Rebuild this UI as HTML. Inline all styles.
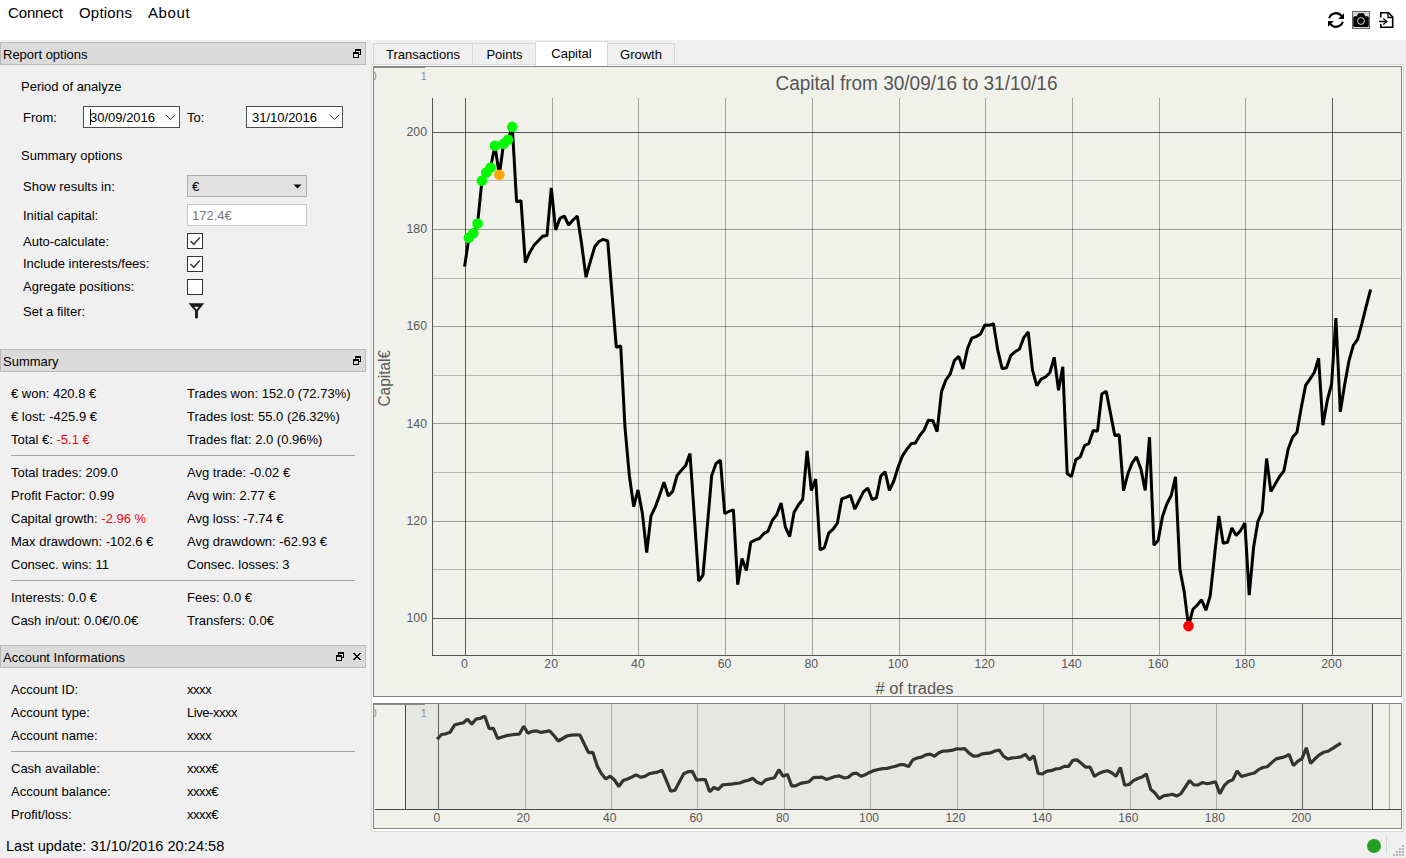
<!DOCTYPE html>
<html><head><meta charset="utf-8"><title>Report</title>
<style>
html,body{margin:0;padding:0}
body{width:1406px;height:858px;background:#f0f0f0;position:relative;overflow:hidden;font-family:"Liberation Sans",sans-serif;font-size:13px;color:#000}
#menubar{position:absolute;left:0;top:0;width:1406px;height:40px;background:#fff}
#menubar span{position:absolute;top:3px;font-size:15px;line-height:19px;white-space:nowrap}
#left .r{position:absolute;white-space:nowrap;line-height:15px;height:15px}
#left .red{color:#f00808}
.dt{position:absolute;left:0;width:364px;height:21px;background:#dbdbdb;border:1px solid #b9b9b9}
.dt b{position:absolute;left:2px;top:4px;font-weight:normal;line-height:15px;white-space:nowrap}
.hr{position:absolute;left:11px;width:344px;height:1px;background:#a0a0a0}
.gv{position:absolute;display:block}
.tab{position:absolute;box-sizing:border-box;border:1px solid #d9d9d9;border-bottom:none;background:#f0f0f0;text-align:center;white-space:nowrap}
.de{position:absolute;box-sizing:border-box;height:22px;top:106px;border:1px solid #4d4d4d;background:#fff}
.de span{position:absolute;top:3px;line-height:15px;white-space:nowrap}
.cb{position:absolute;left:187px;width:16px;height:16px;box-sizing:border-box;border:1px solid #333;background:#fff}
</style></head><body>
<div id="menubar">
<span style="left:8px;letter-spacing:-0.140px">Connect</span><span style="left:79px;letter-spacing:0.200px">Options</span><span style="left:148px;letter-spacing:0.600px">About</span>
<svg style="position:absolute;left:1326px;top:10px" width="70" height="20" viewBox="0 0 70 20">
 <!-- refresh -->
 <g fill="none" stroke="#000" stroke-width="2.2">
  <path d="M3.2 8.2 A7 7 0 0 1 15.6 6.2"/>
  <path d="M16.8 11.8 A7 7 0 0 1 4.4 13.8"/>
 </g>
 <path d="M18 3.2 L18 9 L12.2 9 Z" fill="#000"/>
 <path d="M2 16.8 L2 11 L7.8 11 Z" fill="#000"/>
 <!-- camera -->
 <rect x="26.5" y="1.5" width="17" height="17" fill="#d8d8d8" stroke="#666"/>
 <path d="M27.200 7.800 Q27.200 6.300 28.700 6.300 L30.800 6.300 L32.200 3.200 L37.800 3.200 L39.200 6.300 L41.300 6.300 Q42.800 6.300 42.800 7.800 L42.800 15.400 Q42.800 16.900 41.300 16.900 L28.700 16.900 Q27.200 16.900 27.200 15.400 Z" fill="#000"/>
 <circle cx="35" cy="11" r="3.400" fill="none" stroke="#d8d8d8" stroke-width="1"/>
 <!-- file import -->
 <path d="M54.8 7.5 L54.8 2.8 L62.5 2.800 L66.700 7 L66.700 17.200 L54.8 17.200 L54.8 14" fill="none" stroke="#000" stroke-width="1.6"/>
 <path d="M62 2.800 L62 7.5 L66.700 7.5" fill="none" stroke="#000" stroke-width="1.3"/>
 <path d="M53 11.500 L60.800 11.500 M57.300 8.500 L60.800 11.500 L57.300 14.500" fill="none" stroke="#000" stroke-width="1.300"/>
</svg>
</div>

<div id="left">
<div class="dt" style="top:42px"><b>Report options</b></div>
<div class="dt" style="top:349px"><b>Summary</b></div>
<div class="dt" style="top:645px"><b>Account Informations</b></div>
<div class="r" style="left:21px;top:79px">Period of analyze</div>
<div class="r" style="left:23px;top:110px">From:</div>
<div class="r" style="left:187px;top:110px">To:</div>
<div class="r" style="left:21px;top:148px">Summary options</div>
<div class="r" style="left:23px;top:179px">Show results in:</div>
<div class="r" style="left:23px;top:208px">Initial capital:</div>
<div class="r" style="left:23px;top:234px">Auto-calculate:</div>
<div class="r" style="left:23px;top:256px">Include interests/fees:</div>
<div class="r" style="left:23px;top:279px">Agregate positions:</div>
<div class="r" style="left:23px;top:304px">Set a filter:</div>
<div class="r" style="left:11px;top:386px">€ won: 420.8 €</div>
<div class="r" style="left:187px;top:386px">Trades won: 152.0 (72.73%)</div>
<div class="r" style="left:11px;top:409px">€ lost: -425.9 €</div>
<div class="r" style="left:187px;top:409px">Trades lost: 55.0 (26.32%)</div>
<div class="r" style="left:11px;top:432px">Total €: <span class="red">-5.1 €</span></div>
<div class="r" style="left:187px;top:432px">Trades flat: 2.0 (0.96%)</div>
<div class="r" style="left:11px;top:465px">Total trades: 209.0</div>
<div class="r" style="left:187px;top:465px">Avg trade: -0.02 €</div>
<div class="r" style="left:11px;top:488px">Profit Factor: 0.99</div>
<div class="r" style="left:187px;top:488px">Avg win: 2.77 €</div>
<div class="r" style="left:11px;top:511px">Capital growth: <span class="red">-2.96 %</span></div>
<div class="r" style="left:187px;top:511px">Avg loss: -7.74 €</div>
<div class="r" style="left:11px;top:534px">Max drawdown: -102.6 €</div>
<div class="r" style="left:187px;top:534px">Avg drawdown: -62.93 €</div>
<div class="r" style="left:11px;top:557px">Consec. wins: 11</div>
<div class="r" style="left:187px;top:557px">Consec. losses: 3</div>
<div class="r" style="left:11px;top:590px">Interests: 0.0 €</div>
<div class="r" style="left:187px;top:590px">Fees: 0.0 €</div>
<div class="r" style="left:11px;top:613px">Cash in/out: 0.0€/0.0€</div>
<div class="r" style="left:187px;top:613px">Transfers: 0.0€</div>
<div class="r" style="left:11px;top:681.5px">Account ID:</div>
<div class="r" style="left:187px;top:681.5px"><span style="letter-spacing:-0.45px">xxxx</span></div>
<div class="r" style="left:11px;top:704.5px">Account type:</div>
<div class="r" style="left:187px;top:704.5px"><span style="letter-spacing:-0.45px">Live-xxxx</span></div>
<div class="r" style="left:11px;top:727.5px">Account name:</div>
<div class="r" style="left:187px;top:727.5px"><span style="letter-spacing:-0.45px">xxxx</span></div>
<div class="r" style="left:11px;top:760.5px">Cash available:</div>
<div class="r" style="left:187px;top:760.5px"><span style="letter-spacing:-0.45px">xxxx€</span></div>
<div class="r" style="left:11px;top:783.5px">Account balance:</div>
<div class="r" style="left:187px;top:783.5px"><span style="letter-spacing:-0.45px">xxxx€</span></div>
<div class="r" style="left:11px;top:806.5px">Profit/loss:</div>
<div class="r" style="left:187px;top:806.5px"><span style="letter-spacing:-0.45px">xxxx€</span></div>
<div class="hr" style="top:455px"></div><div class="hr" style="top:580px"></div><div class="hr" style="top:751px"></div>
</div>

<!-- float / close glyphs -->
<svg style="position:absolute;left:352px;top:48px" width="12" height="12" viewBox="0 0 12 12"><g fill="none" stroke="#000" stroke-width="1" shape-rendering="crispEdges"><rect x="3.5" y="1.500" width="5" height="5"/><line x1="3.5" y1="2.500" x2="8.5" y2="2.500"/><rect x="1.500" y="4.500" width="5" height="5" fill="#dbdbdb"/><line x1="1.500" y1="5.500" x2="6.500" y2="5.500"/></g></svg>
<svg style="position:absolute;left:352px;top:355px" width="12" height="12" viewBox="0 0 12 12"><g fill="none" stroke="#000" stroke-width="1" shape-rendering="crispEdges"><rect x="3.5" y="1.500" width="5" height="5"/><line x1="3.5" y1="2.500" x2="8.5" y2="2.500"/><rect x="1.500" y="4.500" width="5" height="5" fill="#dbdbdb"/><line x1="1.500" y1="5.500" x2="6.500" y2="5.500"/></g></svg>
<svg style="position:absolute;left:335px;top:651px" width="12" height="12" viewBox="0 0 12 12"><g fill="none" stroke="#000" stroke-width="1" shape-rendering="crispEdges"><rect x="3.5" y="1.500" width="5" height="5"/><line x1="3.5" y1="2.500" x2="8.5" y2="2.500"/><rect x="1.500" y="4.500" width="5" height="5" fill="#dbdbdb"/><line x1="1.500" y1="5.500" x2="6.500" y2="5.500"/></g></svg>
<svg style="position:absolute;left:353px;top:653px" width="8" height="7" viewBox="0 0 8 7" shape-rendering="crispEdges"><g fill="#000"><rect x="0" y="0" width="2" height="1"/><rect x="6" y="0" width="2" height="1"/><rect x="1" y="1" width="2" height="1"/><rect x="5" y="1" width="2" height="1"/><rect x="2" y="2" width="2" height="1"/><rect x="4" y="2" width="2" height="1"/><rect x="3" y="3" width="2" height="1"/><rect x="2" y="4" width="2" height="1"/><rect x="4" y="4" width="2" height="1"/><rect x="1" y="5" width="2" height="1"/><rect x="5" y="5" width="2" height="1"/><rect x="0" y="6" width="2" height="1"/><rect x="6" y="6" width="2" height="1"/></g></svg>

<!-- form controls -->
<div class="de" style="left:83px;width:97px"><span style="left:6px">30/09/2016</span>
 <i style="position:absolute;left:6px;top:2px;width:1px;height:16px;background:#000"></i>
 <svg style="position:absolute;left:81px;top:7px" width="11" height="7" viewBox="0 0 11 7"><path d="M0.800 0.800 L5.500 5.500 L10.200 0.800" fill="none" stroke="#333" stroke-width="1"/></svg></div>
<div class="de" style="left:246px;width:97px"><span style="left:5px">31/10/2016</span>
 <svg style="position:absolute;left:82px;top:7px" width="11" height="7" viewBox="0 0 11 7"><path d="M0.800 0.800 L5.500 5.500 L10.200 0.800" fill="none" stroke="#333" stroke-width="1"/></svg></div>
<div style="position:absolute;box-sizing:border-box;left:187px;top:175px;width:120px;height:22px;border:1px solid #adadad;background:#e1e1e1"><span style="position:absolute;left:4px;top:3px;line-height:15px">€</span>
 <svg style="position:absolute;left:105px;top:8px" width="9" height="5" viewBox="0 0 9 5"><path d="M0.500 0.500 L8.5 0.500 L4.500 4.500 Z" fill="#000"/></svg></div>
<div style="position:absolute;box-sizing:border-box;left:187px;top:204px;width:120px;height:22px;border:1px solid #c8c8c8;background:#fff"><span style="position:absolute;left:4px;top:3px;line-height:15px;color:#787878">172.4€</span></div>
<div class="cb" style="top:233px"><svg width="14" height="14" viewBox="0 0 14 14" style="display:block"><path d="M2.500 7 L5.800 10.300 L11.800 3.500" fill="none" stroke="#3a3a3a" stroke-width="1.500"/></svg></div>
<div class="cb" style="top:256px"><svg width="14" height="14" viewBox="0 0 14 14" style="display:block"><path d="M2.500 7 L5.800 10.300 L11.800 3.500" fill="none" stroke="#3a3a3a" stroke-width="1.500"/></svg></div>
<div class="cb" style="top:279px"></div>
<svg style="position:absolute;left:188px;top:302px" width="17" height="18" viewBox="0 0 17 18"><path d="M0.600 1.200 L16.200 1.200 L9.900 9 L9.900 15.800 Q9.900 16.600 8.500 16.600 Q7.100 16.600 7.100 15.800 L7.100 9 Z" fill="#1a1a1a"/><path d="M6.200 4.700 L10.800 4.700 L8.500 7.700 Z" fill="#f0f0f0"/></svg>

<!-- tabs -->
<div class="tab" style="left:373px;top:43px;width:100px;height:22px;line-height:21px">Transactions</div>
<div class="tab" style="left:472px;top:43px;width:65px;height:22px;line-height:21px">Points</div>
<div class="tab" style="left:607px;top:43px;width:68px;height:22px;line-height:21px">Growth</div>
<div style="position:absolute;left:371px;top:64px;width:1033px;height:768px;box-sizing:border-box;border:1px solid #d9d9d9;background:#fff"></div>
<div class="tab" style="left:535px;top:41px;width:73px;height:25px;line-height:23px;background:#fff">Capital</div>

<svg class="gv" style="left:373px;top:66px" width="1029" height="631" viewBox="0 0 1029 631">
<rect x="0" y="0" width="1029" height="631" fill="#f1f1ec"/>
<g shape-rendering="crispEdges" stroke-width="1"><line x1="59.5" y1="552.5" x2="1029" y2="552.5" stroke="#000" stroke-opacity="0.63"/><line x1="59.5" y1="503.5" x2="1029" y2="503.5" stroke="#000" stroke-opacity="0.24"/><line x1="59.5" y1="455.5" x2="1029" y2="455.5" stroke="#000" stroke-opacity="0.36"/><line x1="59.5" y1="406.5" x2="1029" y2="406.5" stroke="#000" stroke-opacity="0.24"/><line x1="59.5" y1="357.5" x2="1029" y2="357.5" stroke="#000" stroke-opacity="0.36"/><line x1="59.5" y1="309.5" x2="1029" y2="309.5" stroke="#000" stroke-opacity="0.24"/><line x1="59.5" y1="260.5" x2="1029" y2="260.5" stroke="#000" stroke-opacity="0.36"/><line x1="59.5" y1="212.5" x2="1029" y2="212.5" stroke="#000" stroke-opacity="0.24"/><line x1="59.5" y1="163.5" x2="1029" y2="163.5" stroke="#000" stroke-opacity="0.36"/><line x1="59.5" y1="114.5" x2="1029" y2="114.5" stroke="#000" stroke-opacity="0.24"/><line x1="59.5" y1="66.5" x2="1029" y2="66.5" stroke="#000" stroke-opacity="0.63"/><line x1="92.5" y1="32" x2="92.5" y2="589.5" stroke="#000" stroke-opacity="0.63"/><line x1="179.5" y1="32" x2="179.5" y2="589.5" stroke="#000" stroke-opacity="0.32"/><line x1="265.5" y1="32" x2="265.5" y2="589.5" stroke="#000" stroke-opacity="0.32"/><line x1="352.5" y1="32" x2="352.5" y2="589.5" stroke="#000" stroke-opacity="0.32"/><line x1="439.5" y1="32" x2="439.5" y2="589.5" stroke="#000" stroke-opacity="0.32"/><line x1="526.5" y1="32" x2="526.5" y2="589.5" stroke="#000" stroke-opacity="0.32"/><line x1="612.5" y1="32" x2="612.5" y2="589.5" stroke="#000" stroke-opacity="0.32"/><line x1="699.5" y1="32" x2="699.5" y2="589.5" stroke="#000" stroke-opacity="0.32"/><line x1="786.5" y1="32" x2="786.5" y2="589.5" stroke="#000" stroke-opacity="0.32"/><line x1="872.5" y1="32" x2="872.5" y2="589.5" stroke="#000" stroke-opacity="0.32"/><line x1="959.5" y1="32" x2="959.5" y2="589.5" stroke="#000" stroke-opacity="0.63"/></g>
<g shape-rendering="crispEdges" stroke="#555" stroke-width="1"><line x1="59.5" y1="32" x2="59.5" y2="589.5"/><line x1="59.5" y1="589.5" x2="1029" y2="589.5"/></g>
<polyline points="91.6,200.6 95.9,171.8 100.3,167.3 104.6,157.6 108.9,114.8 113.3,106.5 117.6,101.5 121.9,79.7 126.3,108.8 130.6,77.7 135.0,73.8 139.3,60.9 143.6,135.8 148.0,134.6 152.3,196.6 156.6,186.7 161.0,179.2 165.3,174.8 169.6,170.3 174.0,169.5 178.3,121.9 182.6,163.9 187.0,152.4 191.3,150.0 195.6,159.0 200.0,154.0 204.3,150.0 208.6,177.8 213.0,211.2 217.3,195.7 221.7,180.8 226.0,175.5 230.3,173.3 234.7,174.9 239.0,227.8 243.3,281.3 247.7,279.9 252.0,361.6 256.3,409.2 260.7,440.5 265.0,424.0 269.3,446.8 273.7,486.5 278.0,449.8 282.3,440.9 286.7,429.0 291.0,416.1 295.3,430.0 299.7,425.4 304.0,409.6 308.4,404.2 312.7,399.4 317.0,387.5 321.4,451.3 325.7,515.1 330.0,509.1 334.4,459.2 338.7,409.7 343.0,397.5 347.4,394.2 351.7,447.7 356.0,445.3 360.4,443.8 364.7,518.6 369.0,492.5 373.4,504.4 377.7,476.4 382.0,474.1 386.4,472.5 390.7,467.7 395.0,465.1 399.4,454.2 403.7,448.9 408.1,437.0 412.4,461.2 416.7,470.5 421.1,446.3 425.4,439.0 429.7,433.4 434.1,384.9 438.4,424.5 442.7,413.0 447.1,484.0 451.4,481.6 455.7,467.1 460.1,463.1 464.4,457.1 468.7,432.9 473.1,431.4 477.4,429.3 481.8,443.2 486.1,434.5 490.4,425.9 494.8,422.0 499.1,433.5 503.4,431.9 507.8,410.1 512.1,405.7 516.4,424.4 520.8,415.0 525.1,401.2 529.4,389.9 533.8,383.3 538.1,377.8 542.4,377.0 546.8,369.5 551.1,364.1 555.4,354.2 559.8,354.4 564.1,365.7 568.5,325.6 572.8,314.1 577.1,308.2 581.5,294.3 585.8,290.4 590.1,302.9 594.5,282.5 598.8,272.1 603.1,270.6 607.5,268.0 611.8,259.1 616.1,259.3 620.5,257.7 624.8,284.4 629.1,302.7 633.5,301.7 637.8,289.4 642.1,285.8 646.5,283.0 650.8,271.6 655.2,266.0 659.5,304.2 663.8,319.7 668.2,313.2 672.5,311.0 676.8,306.8 681.2,291.3 685.5,324.3 689.8,300.8 694.2,407.8 698.5,410.4 702.8,393.6 707.2,391.0 711.5,379.7 715.8,377.5 720.2,364.6 724.5,365.2 728.8,328.0 733.2,325.2 737.5,347.4 741.8,369.6 746.2,368.8 750.5,424.7 754.9,407.8 759.2,396.9 763.5,391.0 767.9,402.9 772.2,424.5 776.5,371.2 780.9,479.3 785.2,474.3 789.5,450.6 793.9,437.7 798.2,429.5 802.5,410.9 806.9,503.1 811.2,525.9 815.5,560.1 819.9,543.3 824.2,539.1 828.6,533.8 832.9,544.3 837.2,529.8 841.6,489.2 845.9,450.0 850.2,477.3 854.6,476.3 858.9,461.9 863.2,469.4 867.6,464.4 871.9,457.1 876.2,529.2 880.6,481.3 884.9,455.5 889.2,445.8 893.6,392.5 897.9,425.6 902.2,418.0 906.6,410.6 910.9,404.8 915.2,383.0 919.6,371.3 923.9,366.6 928.3,341.5 932.6,319.4 936.9,313.1 941.3,306.5 945.6,292.3 949.9,359.2 954.3,334.5 958.6,318.0 962.9,252.0 967.3,345.8 971.6,319.0 975.9,295.2 980.3,279.4 984.6,273.4 988.9,257.6 993.3,239.8 997.6,223.5" fill="none" stroke="#000" stroke-width="3" stroke-linejoin="bevel" stroke-linecap="butt"/>
<circle cx="95.9" cy="171.8" r="5.3" fill="#00fa00"/>
<circle cx="100.3" cy="167.3" r="5.3" fill="#00fa00"/>
<circle cx="104.6" cy="157.6" r="5.3" fill="#00fa00"/>
<circle cx="108.9" cy="114.8" r="5.3" fill="#00fa00"/>
<circle cx="113.3" cy="106.5" r="5.3" fill="#00fa00"/>
<circle cx="117.6" cy="101.5" r="5.3" fill="#00fa00"/>
<circle cx="121.9" cy="79.7" r="5.3" fill="#00fa00"/>
<circle cx="130.6" cy="77.7" r="5.3" fill="#00fa00"/>
<circle cx="135.0" cy="73.8" r="5.3" fill="#00fa00"/>
<circle cx="139.3" cy="60.9" r="5.3" fill="#00fa00"/>
<circle cx="126.3" cy="108.8" r="5.3" fill="#ffa500"/>
<circle cx="815.5" cy="560.1" r="5.3" fill="#ff0000"/>
<g font-family="Liberation Sans, sans-serif" font-size="12.3" fill="#585858">
<text x="54" y="556.0" text-anchor="end">100</text>
<text x="54" y="458.8" text-anchor="end">120</text>
<text x="54" y="361.6" text-anchor="end">140</text>
<text x="54" y="264.4" text-anchor="end">160</text>
<text x="54" y="167.2" text-anchor="end">180</text>
<text x="54" y="70.0" text-anchor="end">200</text>
<text x="91.5" y="601.8" text-anchor="middle">0</text>
<text x="178.2" y="601.8" text-anchor="middle">20</text>
<text x="264.9" y="601.8" text-anchor="middle">40</text>
<text x="351.6" y="601.8" text-anchor="middle">60</text>
<text x="438.3" y="601.8" text-anchor="middle">80</text>
<text x="525.0" y="601.8" text-anchor="middle">100</text>
<text x="611.7" y="601.8" text-anchor="middle">120</text>
<text x="698.4" y="601.8" text-anchor="middle">140</text>
<text x="785.1" y="601.8" text-anchor="middle">160</text>
<text x="871.8" y="601.8" text-anchor="middle">180</text>
<text x="958.5" y="601.8" text-anchor="middle">200</text>
</g>
<g font-family="Liberation Sans, sans-serif" font-size="10" fill="#888"><text x="-2" y="14">0</text><text x="48" y="14">1</text></g>
<line x1="1" y1="1.5" x2="52" y2="1.5" stroke="#8a8a8a" stroke-width="1" shape-rendering="crispEdges"/>
<text x="402.5" y="24" font-family="Liberation Sans, sans-serif" font-size="19.300" fill="#555" textLength="282" lengthAdjust="spacingAndGlyphs">Capital from 30/09/16 to 31/10/16</text>
<text x="502.5" y="628" font-family="Liberation Sans, sans-serif" font-size="16" fill="#585858" textLength="78" lengthAdjust="spacingAndGlyphs"># of trades</text>
<text transform="translate(16.69999999999999,340.5) rotate(-90)" font-family="Liberation Sans, sans-serif" font-size="16" fill="#585858" textLength="56.5" lengthAdjust="spacingAndGlyphs">Capital€</text>
<rect x="0.5" y="0.5" width="1028" height="630" fill="none" stroke="#828282" shape-rendering="crispEdges"/>
</svg>
<svg class="gv" style="left:373px;top:703px" width="1029" height="126" viewBox="0 0 1029 126">
<rect x="0" y="0" width="1029" height="126" fill="#f1f1ec"/>
<rect x="32.5" y="1" width="967.0" height="105.5" fill="#e6e6e2"/>
<g shape-rendering="crispEdges" stroke-width="1"><line x1="65.5" y1="1" x2="65.5" y2="106.5" stroke="#626262"/><line x1="152.5" y1="1" x2="152.5" y2="106.5" stroke="#adadab"/><line x1="238.5" y1="1" x2="238.5" y2="106.5" stroke="#adadab"/><line x1="324.5" y1="1" x2="324.5" y2="106.5" stroke="#adadab"/><line x1="411.5" y1="1" x2="411.5" y2="106.5" stroke="#adadab"/><line x1="497.5" y1="1" x2="497.5" y2="106.5" stroke="#adadab"/><line x1="584.5" y1="1" x2="584.5" y2="106.5" stroke="#adadab"/><line x1="670.5" y1="1" x2="670.5" y2="106.5" stroke="#adadab"/><line x1="757.5" y1="1" x2="757.5" y2="106.5" stroke="#adadab"/><line x1="843.5" y1="1" x2="843.5" y2="106.5" stroke="#adadab"/><line x1="929.5" y1="1" x2="929.5" y2="106.5" stroke="#626262"/><line x1="1016.5" y1="1" x2="1016.5" y2="106.5" stroke="#adadab"/><line x1="32.5" y1="1" x2="32.5" y2="106.5" stroke="#4c4c4c"/><line x1="999.5" y1="1" x2="999.5" y2="106.5" stroke="#4c4c4c"/><line x1="2" y1="106.5" x2="1029" y2="106.5" stroke="#4a4a4a"/></g>
<polyline points="64.2,36.3 68.5,31.5 72.8,30.8 77.2,29.2 81.5,22.1 85.8,20.7 90.1,19.9 94.5,16.3 98.8,21.1 103.1,16.0 107.4,15.3 111.8,13.2 116.1,25.6 120.4,25.4 124.7,35.6 129.1,34.0 133.4,32.7 137.7,32.0 142.0,31.3 146.4,31.1 150.7,23.3 155.0,30.2 159.3,28.3 163.7,27.9 168.0,29.4 172.3,28.6 176.6,27.9 180.9,32.5 185.3,38.0 189.6,35.5 193.9,33.0 198.2,32.1 202.6,31.8 206.9,32.0 211.2,40.8 215.5,49.6 219.9,49.4 224.2,62.9 228.5,70.7 232.8,75.9 237.2,73.2 241.5,77.0 245.8,83.5 250.1,77.5 254.5,76.0 258.8,74.0 263.1,71.9 267.4,74.2 271.8,73.4 276.1,70.8 280.4,69.9 284.7,69.1 289.0,67.2 293.4,77.7 297.7,88.2 302.0,87.2 306.3,79.0 310.7,70.8 315.0,68.8 319.3,68.3 323.6,77.1 328.0,76.7 332.3,76.5 336.6,88.8 340.9,84.5 345.3,86.5 349.6,81.8 353.9,81.5 358.2,81.2 362.6,80.4 366.9,80.0 371.2,78.2 375.5,77.3 379.9,75.3 384.2,79.3 388.5,80.9 392.8,76.9 397.1,75.7 401.5,74.7 405.8,66.7 410.1,73.3 414.4,71.4 418.8,83.1 423.1,82.7 427.4,80.3 431.7,79.6 436.1,78.7 440.4,74.7 444.7,74.4 449.0,74.1 453.4,76.4 457.7,74.9 462.0,73.5 466.3,72.9 470.7,74.8 475.0,74.5 479.3,70.9 483.6,70.2 488.0,73.3 492.3,71.7 496.6,69.4 500.9,67.6 505.2,66.5 509.6,65.6 513.9,65.4 518.2,64.2 522.5,63.3 526.9,61.7 531.2,61.7 535.5,63.6 539.8,56.9 544.2,55.0 548.5,54.1 552.8,51.8 557.1,51.1 561.5,53.2 565.8,49.8 570.1,48.1 574.4,47.8 578.8,47.4 583.1,45.9 587.4,46.0 591.7,45.7 596.1,50.1 600.4,53.1 604.7,53.0 609.0,50.9 613.3,50.4 617.7,49.9 622.0,48.0 626.3,47.1 630.6,53.4 635.0,56.0 639.3,54.9 643.6,54.5 647.9,53.8 652.3,51.3 656.6,56.7 660.9,52.8 665.2,70.5 669.6,70.9 673.9,68.2 678.2,67.7 682.5,65.9 686.9,65.5 691.2,63.4 695.5,63.5 699.8,57.3 704.2,56.9 708.5,60.5 712.8,64.2 717.1,64.1 721.4,73.3 725.8,70.5 730.1,68.7 734.4,67.7 738.7,69.7 743.1,73.3 747.4,64.5 751.7,82.3 756.0,81.5 760.4,77.6 764.7,75.5 769.0,74.1 773.3,71.0 777.7,86.3 782.0,90.0 786.3,95.7 790.6,92.9 795.0,92.2 799.3,91.3 803.6,93.1 807.9,90.7 812.3,84.0 816.6,77.5 820.9,82.0 825.2,81.8 829.5,79.5 833.9,80.7 838.2,79.9 842.5,78.7 846.8,90.6 851.2,82.7 855.5,78.4 859.8,76.8 864.1,68.0 868.5,73.5 872.8,72.2 877.1,71.0 881.4,70.0 885.8,66.4 890.1,64.5 894.4,63.7 898.7,59.6 903.1,55.9 907.4,54.9 911.7,53.8 916.0,51.4 920.4,62.5 924.7,58.4 929.0,55.7 933.3,44.8 937.6,60.3 942.0,55.8 946.3,51.9 950.6,49.3 954.9,48.3 959.3,45.7 963.6,42.8 967.9,40.1" fill="none" stroke="#333333" stroke-width="3.2" stroke-linejoin="bevel" stroke-linecap="butt"/>
<g font-family="Liberation Sans, sans-serif" font-size="12" fill="#585858">
<text x="63.8" y="119" text-anchor="middle">0</text>
<text x="150.2" y="119" text-anchor="middle">20</text>
<text x="236.7" y="119" text-anchor="middle">40</text>
<text x="323.1" y="119" text-anchor="middle">60</text>
<text x="409.6" y="119" text-anchor="middle">80</text>
<text x="496.0" y="119" text-anchor="middle">100</text>
<text x="582.4" y="119" text-anchor="middle">120</text>
<text x="668.9" y="119" text-anchor="middle">140</text>
<text x="755.3" y="119" text-anchor="middle">160</text>
<text x="841.8" y="119" text-anchor="middle">180</text>
<text x="928.2" y="119" text-anchor="middle">200</text>
</g>
<g font-family="Liberation Sans, sans-serif" font-size="10" fill="#888"><text x="-2" y="14">0</text><text x="48" y="14">1</text></g>
<line x1="1" y1="1.5" x2="52" y2="1.5" stroke="#8a8a8a" stroke-width="1" shape-rendering="crispEdges"/>
<rect x="0.5" y="0.5" width="1028" height="125" fill="none" stroke="#828282" shape-rendering="crispEdges"/>
</svg>

<!-- status bar -->
<div style="position:absolute;left:6px;top:837px;font-size:14.600px;line-height:19px;white-space:nowrap">Last update: 31/10/2016 20:24:58</div>
<div style="position:absolute;left:1367px;top:839px;width:14px;height:14px;border-radius:7px;background:#22a022"></div>
<div style="position:absolute;left:1386px;top:836px;width:1px;height:18px;background:#d7d7d7"></div>
<svg style="position:absolute;left:1393px;top:845px" width="12" height="12" viewBox="0 0 12 12" shape-rendering="crispEdges"><g fill="#b8b8b8"><rect x="9" y="0" width="2" height="2"/><rect x="6" y="3" width="2" height="2"/><rect x="9" y="3" width="2" height="2"/><rect x="3" y="6" width="2" height="2"/><rect x="6" y="6" width="2" height="2"/><rect x="9" y="6" width="2" height="2"/><rect x="0" y="9" width="2" height="2"/><rect x="3" y="9" width="2" height="2"/><rect x="6" y="9" width="2" height="2"/><rect x="9" y="9" width="2" height="2"/></g></svg>
</body></html>
